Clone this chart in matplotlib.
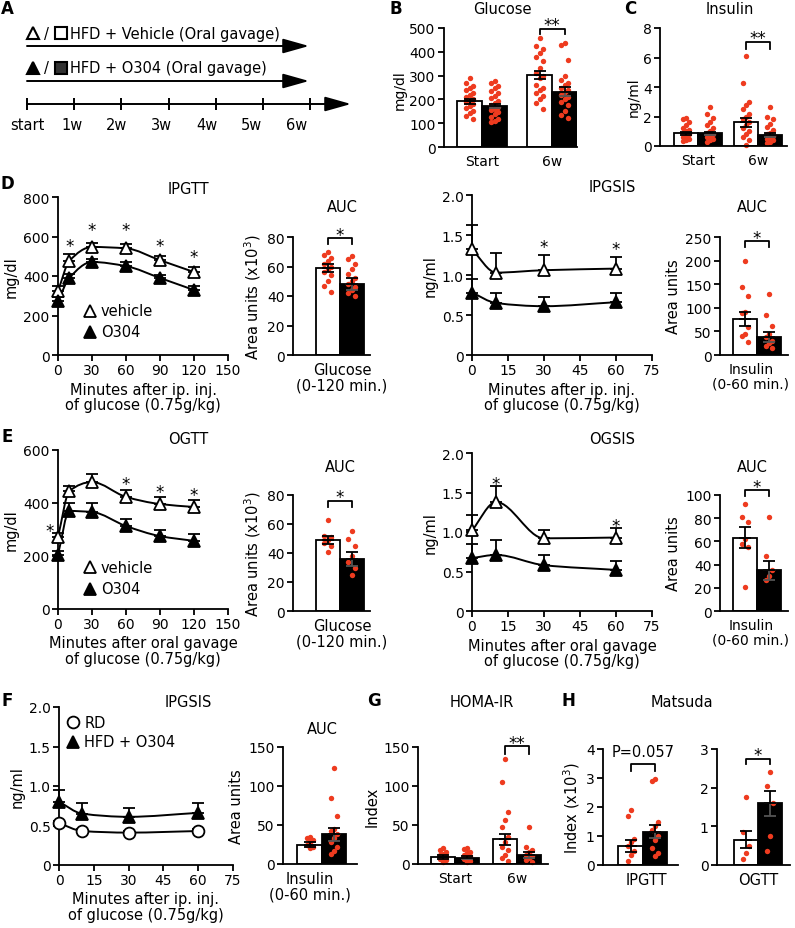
import numpy as np
import matplotlib
matplotlib.use('Agg')
import matplotlib.pyplot as plt
from matplotlib.path import Path
from matplotlib.patches import PathPatch

W, H = 795, 929
RED = '#ee3b1f'

plt.rcParams['font.family'] = ['DejaVu Sans']
plt.rcParams['font.size'] = 10
plt.rcParams['axes.linewidth'] = 1.3

# ---------------- data ----------------
weeks = ['start', '1w', '2w', '3w', '4w', '5w', '6w']
time_groups = ['Start', '6w']

# B - fasting glucose
glu_veh = [192, 303]
glu_veh_sem = [10, 17]
glu_o304 = [172, 233]
glu_o304_sem = [8, 18]
glu_veh_pts = [[290, 268, 258, 248, 238, 228, 218, 208, 200, 194, 188, 180, 172, 162, 152, 142, 130, 118],
               [460, 425, 410, 395, 380, 362, 330, 312, 300, 288, 262, 250, 238, 226, 214, 200, 186, 160]]
glu_o304_pts = [[278, 268, 258, 248, 236, 226, 216, 204, 194, 184, 176, 168, 160, 154, 146, 138, 128, 118, 110, 105],
                [435, 428, 365, 300, 282, 270, 260, 250, 240, 230, 220, 210, 200, 190, 176, 152, 136, 120]]

# C - fasting insulin
ins_veh = [0.85, 1.6]
ins_veh_sem = [0.12, 0.28]
ins_o304 = [0.85, 0.75]
ins_o304_sem = [0.13, 0.12]
ins_veh_pts = [[1.9, 1.8, 1.6, 1.4, 1.2, 1.1, 1.0, 0.9, 0.8, 0.7, 0.6, 0.5, 0.4, 0.35],
               [6.1, 4.3, 3.0, 2.8, 2.5, 2.2, 2.0, 1.8, 1.6, 1.4, 1.2, 1.0, 0.8, 0.6, 0.4, 0.1]]
ins_o304_pts = [[2.65, 2.2, 1.9, 1.6, 1.4, 1.2, 1.0, 0.9, 0.8, 0.7, 0.6, 0.5, 0.4, 0.3],
                [2.65, 2.0, 1.8, 1.5, 1.3, 1.1, 0.9, 0.8, 0.7, 0.6, 0.5, 0.4, 0.3, 0.2]]

# D - IPGTT / IPGSIS
gtt_min = [0, 10, 30, 60, 90, 120]
ipgtt_veh = [324, 476, 547, 540, 480, 420]
ipgtt_veh_err = [25, 35, 20, 20, 20, 25]
ipgtt_o304 = [273, 390, 471, 450, 390, 329]
ipgtt_o304_err = [20, 20, 15, 20, 15, 20]
ipgtt_star_min = [10, 30, 60, 90, 120]
ipgtt_star_y = [577, 655, 655, 577, 520]

ipgtt_auc = [59, 48]
ipgtt_auc_sem = [3, 4]
ipgtt_auc_pts = [[70, 68, 66, 64, 62, 60, 58, 56, 54, 50, 47, 43],
                 [67, 65, 62, 58, 55, 52, 50, 48, 46, 44, 42, 40]]

gsis_min = [0, 10, 30, 60]
ipgsis_veh = [1.32, 1.03, 1.06, 1.08]
ipgsis_veh_err = [0.30, 0.25, 0.19, 0.15]
ipgsis_o304 = [0.78, 0.65, 0.61, 0.66]
ipgsis_o304_err = [0.17, 0.13, 0.12, 0.12]
ipgsis_star_min = [30, 60]
ipgsis_star_y = [1.41, 1.39]

ipgsis_auc = [77, 38]
ipgsis_auc_sem = [15, 10]
ipgsis_auc_pts = [[200, 145, 125, 92, 88, 60, 45, 40, 28],
                  [130, 85, 62, 45, 38, 30, 25, 20, 15]]

# E - OGTT / OGSIS
ogtt_veh = [272, 445, 479, 423, 396, 385]
ogtt_veh_err = [15, 20, 30, 25, 25, 25]
ogtt_o304 = [205, 370, 366, 313, 275, 257]
ogtt_o304_err = [15, 30, 35, 25, 25, 25]
ogtt_star_min = [-7, 60, 90, 120]
ogtt_star_y = [313, 490, 460, 449]

ogtt_auc = [49, 36]
ogtt_auc_sem = [3, 5]
ogtt_auc_pts = [[63, 52, 51, 49, 47, 45, 41],
                [55, 50, 45, 38, 34, 30, 25]]

ogsis_veh = [1.02, 1.38, 0.92, 0.93]
ogsis_veh_err = [0.20, 0.20, 0.10, 0.12]
ogsis_o304 = [0.67, 0.71, 0.58, 0.52]
ogsis_o304_err = [0.18, 0.19, 0.13, 0.11]
ogsis_star_min = [10, 60]
ogsis_star_y = [1.67, 1.14]

ogsis_auc = [63, 35]
ogsis_auc_sem = [9, 8]
ogsis_auc_pts = [[92, 81, 77, 62, 58, 55, 21],
                 [81, 47, 35, 30, 27]]

# F - IPGSIS RD vs HFD + O304
rd_ins = [0.53, 0.43, 0.41, 0.43]
rd_ins_err = [0.03, 0.02, 0.02, 0.02]
hfd_ins = [0.80, 0.65, 0.61, 0.66]
hfd_ins_err = [0.15, 0.14, 0.11, 0.12]
f_auc = [25, 38]
f_auc_sem = [3, 8]
f_auc_pts = [[35, 33, 31, 28, 25, 22, 20],
             [123, 84, 62, 45, 42, 38, 33, 28, 22, 17, 13]]

# G - HOMA-IR
homa_veh = [9, 32]
homa_veh_sem = [2, 7]
homa_o304 = [8, 12]
homa_o304_sem = [2, 4]
homa_veh_pts = [[20, 18, 15, 13, 11, 9, 8, 6, 5, 3],
                [134, 105, 67, 57, 47, 35, 28, 22, 18, 12, 8, 4]]
homa_o304_pts = [[21, 19, 16, 14, 12, 10, 8, 6, 4, 2],
                 [47, 22, 18, 15, 12, 10, 8, 5, 3]]

# H - Matsuda index
mats_ipgtt = [0.65, 1.15]
mats_ipgtt_sem = [0.2, 0.22]
mats_ipgtt_pts = [[1.9, 1.7, 0.9, 0.8, 0.65, 0.5, 0.35, 0.15],
                  [2.95, 2.88, 1.5, 1.35, 1.2, 1.0, 0.85, 0.6, 0.4, 0.3]]
mats_ogtt = [0.65, 1.6]
mats_ogtt_sem = [0.22, 0.32]
mats_ogtt_pts = [[1.75, 0.85, 0.5, 0.3, 0.15],
                 [2.4, 2.05, 1.6, 0.75, 0.35]]

ins_ticklabels = ['0', '0.5', '1.0', '1.5', '2.0']

# ---------------- helpers ----------------
fig = plt.figure(figsize=(W / 100, H / 100), dpi=100)


def pax(x0, y0, x1, y1):
    ax = fig.add_axes([x0 / W, 1 - y1 / H, (x1 - x0) / W, (y1 - y0) / H])
    ax.set_facecolor('none')
    return ax


def ftext(x, y, s, **kw):
    fig.text(x / W, 1 - y / H, s, **kw)


def style(ax):
    for s in ['top', 'right']:
        ax.spines[s].set_visible(False)
    ax.tick_params(direction='out', length=4, width=1.3, labelsize=10, pad=2)


def star_at(ax, x, y, s='*', dy=0):
    ax.annotate(s, (x, y), xytext=(0, dy - 7), textcoords='offset points',
                ha='center', va='baseline', fontsize=12, annotation_clip=False)


def bracket(ax, x1, x2, y, drop, s):
    ax.plot([x1, x1, x2, x2], [y - drop, y, y, y - drop], color='k', lw=1.3, clip_on=False)
    star_at(ax, (x1 + x2) / 2, y, s, dy=6)


def slopes(x, y):
    # monotone (pchip-like) tangents so the joining curve does not overshoot
    h = np.diff(x)
    d = np.diff(y) / h
    m = np.zeros(len(x))
    m[0], m[-1] = d[0], d[-1]
    for k in range(1, len(x) - 1):
        if d[k - 1] * d[k] > 0:
            w1 = 2 * h[k] + h[k - 1]
            w2 = h[k] + 2 * h[k - 1]
            m[k] = (w1 + w2) / (w1 / d[k - 1] + w2 / d[k])
    return m


def smooth(ax, x, y):
    x = np.asarray(x, float)
    y = np.asarray(y, float)
    m = slopes(x, y)
    verts = [(x[0], y[0])]
    codes = [Path.MOVETO]
    for i in range(len(x) - 1):
        d = (x[i + 1] - x[i]) / 3
        verts += [(x[i] + d, y[i] + m[i] * d), (x[i + 1] - d, y[i + 1] - m[i + 1] * d), (x[i + 1], y[i + 1])]
        codes += [Path.CURVE4] * 3
    ax.add_patch(PathPatch(Path(verts, codes), fill=False, lw=1.4, ec='k', zorder=2))


def curve(ax, t, y, err, marker, face):
    smooth(ax, t, y)
    ax.errorbar(t, y, yerr=[np.zeros(len(err)), err], fmt='none', ecolor='k',
                elinewidth=1.3, capsize=4, capthick=1.3, zorder=3, clip_on=False)
    ax.plot(t, y, ls='none', marker=marker, ms=8.5, mfc=face, mec='k', mew=1.3,
            zorder=4, clip_on=False)


def line_axes(box, xlim, xticks, ylim, yticks, yticklabels=None):
    ax = pax(*box)
    style(ax)
    ax.set_xlim(xlim)
    ax.set_ylim(ylim)
    ax.set_xticks(xticks)
    ax.set_yticks(yticks)
    if yticklabels:
        ax.set_yticklabels(yticklabels)
    return ax


def bar_axes(box, xlim, ylim, yticks):
    ax = pax(*box)
    style(ax)
    ax.set_xlim(xlim)
    ax.set_ylim(ylim)
    ax.set_yticks(yticks)
    ax.tick_params(axis='x', length=0, pad=5)
    return ax


def bars(ax, pos, mean, sem, pts, face, width):
    pos = np.asarray(pos, float)
    ax.bar(pos, mean, width, color=face, edgecolor='k', linewidth=1.3, zorder=1)
    for p, vals in zip(pos, pts):
        n = len(vals)
        offs = np.array([0, -1, 1] * n)[:n] * width * 0.13
        ax.scatter(p + offs, vals, s=15, color=RED, linewidths=0, zorder=2, clip_on=False)
    low = 'k' if face == 'white' else '#555555'
    z = np.zeros(len(sem))
    ax.errorbar(pos, mean, yerr=[sem, z], fmt='none', ecolor=low, elinewidth=1.3,
                capsize=4, capthick=1.3, zorder=3)
    ax.errorbar(pos, mean, yerr=[z, sem], fmt='none', ecolor='k', elinewidth=1.3,
                capsize=4, capthick=1.3, zorder=3)


def legend_row(ax, fx, fy, marker, face, label):
    ax.plot([fx], [fy], transform=ax.transAxes, marker=marker, ms=8.5, mfc=face,
            mec='k', mew=1.3, ls='none', clip_on=False)
    ax.text(fx + 0.065, fy, label, transform=ax.transAxes, va='center', ha='left', fontsize=10.5)


# ---------------- panel letters & titles ----------------
for letter, x, y in [('A', 7, 9), ('B', 396, 9), ('C', 630, 9), ('D', 7, 184),
                     ('E', 7, 437), ('F', 7, 701), ('G', 374, 701), ('H', 568, 701)]:
    ftext(x, y, letter, fontsize=12, fontweight='bold', ha='center', va='center')

for title, x, y in [('Glucose', 502, 10), ('Insulin', 730, 10), ('IPGTT', 188, 189),
                    ('AUC', 342, 208), ('IPGSIS', 612, 188), ('AUC', 752, 208),
                    ('OGTT', 188, 440), ('AUC', 340, 468), ('OGSIS', 612, 440),
                    ('AUC', 752, 468), ('IPGSIS', 188, 703), ('AUC', 322, 730),
                    ('HOMA-IR', 482, 703), ('Matsuda', 682, 703)]:
    ftext(x, y, title, fontsize=10.5, ha='center', va='center')

# ---------------- A: protocol ----------------
axA = pax(0, 0, 400, 160)
axA.set_xlim(0, 400)
axA.set_ylim(160, 0)
axA.axis('off')
head = '-|>,head_length=1.6,head_width=0.45'
for y, face, sq, label in [(34, 'white', 'white', 'HFD + Vehicle (Oral gavage)'),
                           (69, 'black', '#333333', 'HFD + O304 (Oral gavage)')]:
    axA.plot([33], [y], marker='^', ms=9, mfc=face, mec='k', mew=1.5)
    axA.text(46, y, '/', ha='center', va='center', fontsize=10.5)
    axA.plot([61], [y], marker='s', ms=8.5, mfc=sq, mec='k', mew=1.5)
    axA.text(70, y, label, ha='left', va='center', fontsize=10.5)
    axA.annotate('', xy=(309, y + 13), xytext=(27, y + 13),
                 arrowprops=dict(arrowstyle=head, color='k', lw=1.4, shrinkA=0, shrinkB=0, mutation_scale=10))
tick_x = 27 + 47.2 * np.arange(len(weeks))
axA.annotate('', xy=(351, 105), xytext=(27, 105),
             arrowprops=dict(arrowstyle=head, color='k', lw=1.4, shrinkA=0, shrinkB=0, mutation_scale=10))
axA.vlines(tick_x, 99, 111, color='k', lw=1.4)
for i, (x, w) in enumerate(zip(tick_x, weeks)):
    axA.text(x - 2.3 * i, 125, w, ha='center', va='center', fontsize=10.5)

# ---------------- B ----------------
idx = np.arange(len(time_groups))
axB = bar_axes((444, 29, 577, 148), (-0.543, 1.357), (0, 500), [0, 100, 200, 300, 400, 500])
wB = 0.357
bars(axB, idx - wB / 2, glu_veh, glu_veh_sem, glu_veh_pts, 'white', wB)
bars(axB, idx + wB / 2, glu_o304, glu_o304_sem, glu_o304_pts, 'black', wB)
axB.set_xticks(idx)
axB.set_xticklabels(time_groups)
bracket(axB, 1 - wB / 2, 1 + wB / 2, 497, 22, '**')
ftext(400, 90, 'mg/dl', rotation=90, ha='center', va='center')

# ---------------- C ----------------
axC = bar_axes((660, 29, 787, 147), (-0.633, 1.483), (0, 8), [0, 2, 4, 6, 8])
wC = 0.4
bars(axC, idx - wC / 2, ins_veh, ins_veh_sem, ins_veh_pts, 'white', wC)
bars(axC, idx + wC / 2, ins_o304, ins_o304_sem, ins_o304_pts, 'black', wC)
axC.set_xticks(idx)
axC.set_xticklabels(time_groups)
bracket(axC, 1 - wC / 2, 1 + wC / 2, 7.05, 0.45, '**')
ftext(634, 97, 'ng/ml', rotation=90, ha='center', va='center')

# ---------------- D: IPGTT ----------------
axD1 = line_axes((58, 198, 228, 356), (0, 150), [0, 30, 60, 90, 120, 150], (0, 800), [0, 200, 400, 600, 800])
curve(axD1, gtt_min, ipgtt_veh, ipgtt_veh_err, '^', 'white')
curve(axD1, gtt_min, ipgtt_o304, ipgtt_o304_err, '^', 'black')
for t, y in zip(ipgtt_star_min, ipgtt_star_y):
    star_at(axD1, t, y)
legend_row(axD1, 0.188, 0.28, '^', 'white', 'vehicle')
legend_row(axD1, 0.188, 0.146, '^', 'black', 'O304')
axD1.set_xlabel('Minutes after ip. inj.\nof glucose (0.75g/kg)', fontsize=10.5, labelpad=3, linespacing=1.05)
axD1.set_ylabel('mg/dl', fontsize=10.5, labelpad=3)

axD2 = bar_axes((293, 238, 370, 356), (-1.94, 1.27), (0, 80), [0, 20, 40, 60, 80])
bars(axD2, [-0.5], ipgtt_auc[:1], ipgtt_auc_sem[:1], ipgtt_auc_pts[:1], 'white', 1)
bars(axD2, [0.5], ipgtt_auc[1:], ipgtt_auc_sem[1:], ipgtt_auc_pts[1:], 'black', 1)
axD2.set_xticks([0.1])
axD2.set_xticklabels(['Glucose\n(0-120 min.)'], fontsize=10.5, linespacing=1.05)
bracket(axD2, -0.5, 0.5, 79, 4, '*')
axD2.set_ylabel('Area units (x10$^3$)', fontsize=10.5, labelpad=3)

# ---------------- D: IPGSIS ----------------
axD3 = line_axes((472, 196, 652, 356), (0, 75), [0, 15, 30, 45, 60, 75], (0, 2), [0, 0.5, 1, 1.5, 2], ins_ticklabels)
curve(axD3, gsis_min, ipgsis_veh, ipgsis_veh_err, '^', 'white')
curve(axD3, gsis_min, ipgsis_o304, ipgsis_o304_err, '^', 'black')
for t, y in zip(ipgsis_star_min, ipgsis_star_y):
    star_at(axD3, t, y)
axD3.set_xlabel('Minutes after ip. inj.\nof glucose (0.75g/kg)', fontsize=10.5, labelpad=3, linespacing=1.05)
axD3.set_ylabel('ng/ml', fontsize=10.5, labelpad=3)

axD4 = bar_axes((720, 238, 788, 356), (-1.54, 1.29), (0, 250), [0, 50, 100, 150, 200, 250])
bars(axD4, [-0.5], ipgsis_auc[:1], ipgsis_auc_sem[:1], ipgsis_auc_pts[:1], 'white', 1)
bars(axD4, [0.5], ipgsis_auc[1:], ipgsis_auc_sem[1:], ipgsis_auc_pts[1:], 'black', 1)
axD4.set_xticks([-0.25])
axD4.set_xticklabels(['Insulin\n(0-60 min.)'], fontsize=10, linespacing=1.05)
bracket(axD4, -0.5, 0.5, 241, 12, '*')
axD4.set_ylabel('Area units', fontsize=10.5, labelpad=3)

# ---------------- E: OGTT ----------------
axE1 = line_axes((58, 451, 228, 610), (0, 150), [0, 30, 60, 90, 120, 150], (0, 600), [0, 200, 400, 600])
curve(axE1, gtt_min, ogtt_veh, ogtt_veh_err, '^', 'white')
curve(axE1, gtt_min, ogtt_o304, ogtt_o304_err, '^', 'black')
for t, y in zip(ogtt_star_min, ogtt_star_y):
    star_at(axE1, t, y)
legend_row(axE1, 0.188, 0.264, '^', 'white', 'vehicle')
legend_row(axE1, 0.188, 0.126, '^', 'black', 'O304')
axE1.set_xlabel('Minutes after oral gavage\nof glucose (0.75g/kg)', fontsize=10.5, labelpad=3, linespacing=1.05)
axE1.set_ylabel('mg/dl', fontsize=10.5, labelpad=3)

axE2 = bar_axes((293, 496, 370, 612), (-1.94, 1.27), (0, 80), [0, 20, 40, 60, 80])
bars(axE2, [-0.5], ogtt_auc[:1], ogtt_auc_sem[:1], ogtt_auc_pts[:1], 'white', 1)
bars(axE2, [0.5], ogtt_auc[1:], ogtt_auc_sem[1:], ogtt_auc_pts[1:], 'black', 1)
axE2.set_xticks([0.1])
axE2.set_xticklabels(['Glucose\n(0-120 min.)'], fontsize=10.5, linespacing=1.05)
bracket(axE2, -0.5, 0.5, 76, 4, '*')
axE2.set_ylabel('Area units (x10$^3$)', fontsize=10.5, labelpad=3)

axE3 = line_axes((472, 454, 652, 612), (0, 75), [0, 15, 30, 45, 60, 75], (0, 2), [0, 0.5, 1, 1.5, 2], ins_ticklabels)
curve(axE3, gsis_min, ogsis_veh, ogsis_veh_err, '^', 'white')
curve(axE3, gsis_min, ogsis_o304, ogsis_o304_err, '^', 'black')
for t, y in zip(ogsis_star_min, ogsis_star_y):
    star_at(axE3, t, y)
axE3.set_xlabel('Minutes after oral gavage\nof glucose (0.75g/kg)', fontsize=10.5, labelpad=3, linespacing=1.05)
axE3.set_ylabel('ng/ml', fontsize=10.5, labelpad=3)

axE4 = bar_axes((720, 496, 788, 612), (-1.54, 1.29), (0, 100), [0, 20, 40, 60, 80, 100])
bars(axE4, [-0.5], ogsis_auc[:1], ogsis_auc_sem[:1], ogsis_auc_pts[:1], 'white', 1)
bars(axE4, [0.5], ogsis_auc[1:], ogsis_auc_sem[1:], ogsis_auc_pts[1:], 'black', 1)
axE4.set_xticks([-0.25])
axE4.set_xticklabels(['Insulin\n(0-60 min.)'], fontsize=10, linespacing=1.05)
bracket(axE4, -0.5, 0.5, 104, 5, '*')
axE4.set_ylabel('Area units', fontsize=10.5, labelpad=3)

# ---------------- F ----------------
axF1 = line_axes((59, 708, 233, 866), (0, 75), [0, 15, 30, 45, 60, 75], (0, 2), [0, 0.5, 1, 1.5, 2], ins_ticklabels)
curve(axF1, gsis_min, hfd_ins, hfd_ins_err, '^', 'black')
curve(axF1, gsis_min, rd_ins, rd_ins_err, 'o', 'white')
legend_row(axF1, 0.08, 0.905, 'o', 'white', 'RD')
legend_row(axF1, 0.08, 0.78, '^', 'black', 'HFD + O304')
axF1.set_xlabel('Minutes after ip. inj.\nof glucose (0.75g/kg)', fontsize=10.5, labelpad=3, linespacing=1.05)
axF1.set_ylabel('ng/ml', fontsize=10.5, labelpad=3)

axF2 = bar_axes((283, 748, 357, 865), (-1.59, 1.43), (0, 150), [0, 50, 100, 150])
bars(axF2, [-0.5], f_auc[:1], f_auc_sem[:1], f_auc_pts[:1], 'white', 1)
bars(axF2, [0.5], f_auc[1:], f_auc_sem[1:], f_auc_pts[1:], 'black', 1)
axF2.set_xticks([-0.5])
axF2.set_xticklabels(['Insulin\n(0-60 min.)'], fontsize=10.5, linespacing=1.05)
axF2.set_ylabel('Area units', fontsize=10.5, labelpad=3)

# ---------------- G ----------------
axG = bar_axes((418, 748, 548, 865), (-0.597, 1.5), (0, 150), [0, 50, 100, 150])
wG = 0.395
bars(axG, idx - wG / 2, homa_veh, homa_veh_sem, homa_veh_pts, 'white', wG)
bars(axG, idx + wG / 2, homa_o304, homa_o304_sem, homa_o304_pts, 'black', wG)
axG.set_xticks(idx)
axG.set_xticklabels(time_groups)
bracket(axG, 1 - wG / 2, 1 + wG / 2, 151, 10, '**')
axG.set_ylabel('Index', fontsize=10.5, labelpad=3)

# ---------------- H ----------------
axH1 = bar_axes((603, 750, 678, 866), (-1.63, 1.43), (0, 4), [0, 1, 2, 3, 4])
bars(axH1, [-0.5], mats_ipgtt[:1], mats_ipgtt_sem[:1], mats_ipgtt_pts[:1], 'white', 1)
bars(axH1, [0.5], mats_ipgtt[1:], mats_ipgtt_sem[1:], mats_ipgtt_pts[1:], 'black', 1)
axH1.set_xticks([0.15])
axH1.set_xticklabels(['IPGTT'], fontsize=10.5)
axH1.plot([-0.5, -0.5, 0.5, 0.5], [3.24, 3.48, 3.48, 3.24], color='k', lw=1.3, clip_on=False)
axH1.text(0, 3.92, 'P=0.057', ha='center', va='center', fontsize=10.5)
axH1.set_ylabel('Index (x10$^3$)', fontsize=10.5, labelpad=3)

axH2 = bar_axes((717, 750, 790, 866), (-1.71, 1.33), (0, 3), [0, 1, 2, 3])
bars(axH2, [-0.5], mats_ogtt[:1], mats_ogtt_sem[:1], mats_ogtt_pts[:1], 'white', 1)
bars(axH2, [0.5], mats_ogtt[1:], mats_ogtt_sem[1:], mats_ogtt_pts[1:], 'black', 1)
axH2.set_xticks([0])
axH2.set_xticklabels(['OGTT'], fontsize=10.5)
bracket(axH2, -0.5, 0.5, 2.74, 0.14, '*')

fig.savefig('out.png', dpi=100)
